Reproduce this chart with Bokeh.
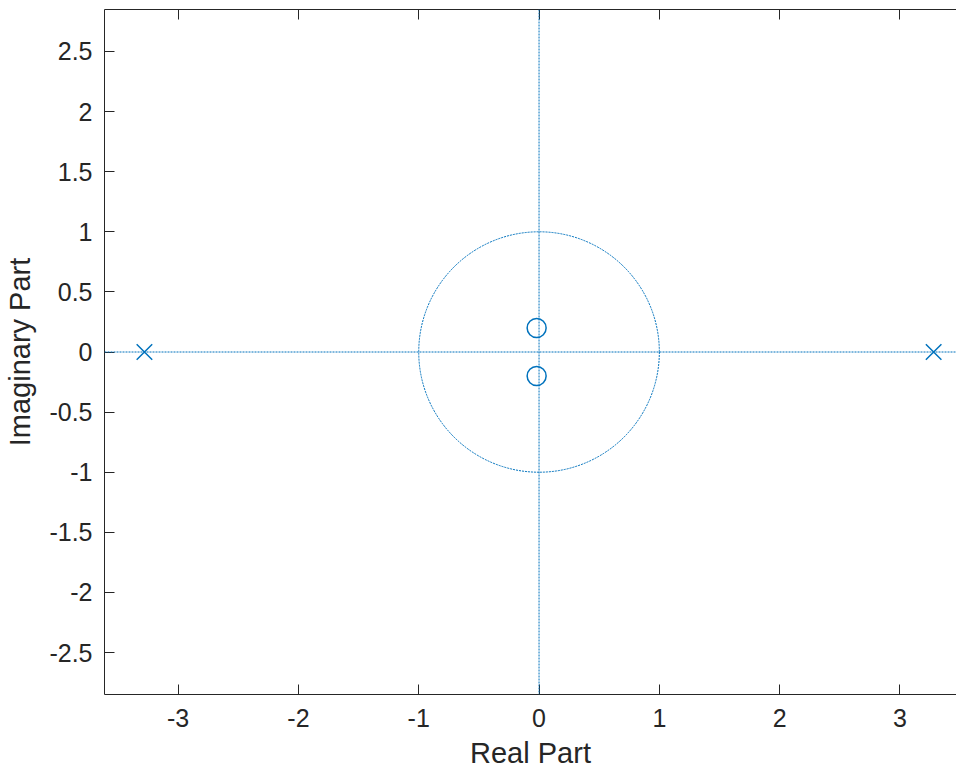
from bokeh.plotting import figure
from bokeh.models import LinearAxis, FixedTicker, Span, Range1d
from bokeh.embed import file_html
from bokeh.resources import INLINE

# Data
pole_re = [3.28, -3.28]
pole_im = [0.0, 0.0]
zero_re = [-0.02, -0.02]
zero_im = [0.2, -0.2]
x_ticks = [-3, -2, -1, 0, 1, 2, 3]
y_ticks = [-2.5, -2, -1.5, -1, -0.5, 0, 0.5, 1, 1.5, 2, 2.5]

BLUE = "#0072BD"
AX = "#262626"
FONT = "Liberation Sans"

p = figure(width=956, height=772, output_backend="svg", toolbar_location=None,
           x_range=Range1d(-3.612, 3.470), y_range=Range1d(-2.849, 2.849),
           min_border_left=104, min_border_top=9, min_border_right=0, min_border_bottom=78,
           x_axis_label="Real Part", y_axis_label="Imaginary Part")
p.outline_line_color = None
p.grid.visible = False
p.background_fill_color = "white"
p.border_fill_color = "white"

for ax in (p.xaxis[0], p.yaxis[0]):
    ax.axis_line_color = AX
    ax.major_tick_line_color = AX
    ax.minor_tick_line_color = None
    ax.major_tick_in = 10
    ax.major_tick_out = 0
    ax.major_label_text_font = FONT
    ax.major_label_text_font_size = "25px"
    ax.major_label_text_color = AX
    ax.axis_label_text_font = FONT
    ax.axis_label_text_font_size = "29px"
    ax.axis_label_text_font_style = "normal"
    ax.axis_label_text_color = AX

p.xaxis[0].ticker = FixedTicker(ticks=x_ticks)
p.yaxis[0].ticker = FixedTicker(ticks=y_ticks)
p.xaxis[0].major_label_overrides = {t: f"{t:g}" for t in x_ticks}
p.yaxis[0].major_label_overrides = {t: f"{t:g}" for t in y_ticks}
p.xaxis[0].major_label_standoff = 14
p.xaxis[0].axis_label_standoff = 7
p.yaxis[0].major_label_standoff = 12
p.yaxis[0].axis_label_standoff = 10

# box top edge with inward ticks (no labels)
top = LinearAxis(ticker=FixedTicker(ticks=x_ticks), axis_line_color=AX,
                 major_tick_line_color=AX, minor_tick_line_color=None,
                 major_tick_in=10, major_tick_out=0,
                 major_label_overrides={t: "" for t in x_ticks},
                 major_label_text_font_size="1px", major_label_standoff=0)
p.add_layout(top, "above")

# dotted reference lines
p.add_layout(Span(location=0, dimension="width", line_color=BLUE, line_dash="2 1", line_width=1))
p.add_layout(Span(location=0, dimension="height", line_color=BLUE, line_dash="2 1", line_width=1))
p.ellipse(x=0, y=0, width=2, height=2, fill_color=None, line_color=BLUE,
          line_dash="2 1", line_width=1)

# zeros and poles
p.scatter(zero_re, zero_im, marker="circle", size=19, fill_color=None,
          line_color=BLUE, line_width=1.5)
p.scatter(pole_re, pole_im, marker="x", size=22, line_color=BLUE, line_width=1.5)

open("out.html", "w").write(file_html(p, INLINE))
